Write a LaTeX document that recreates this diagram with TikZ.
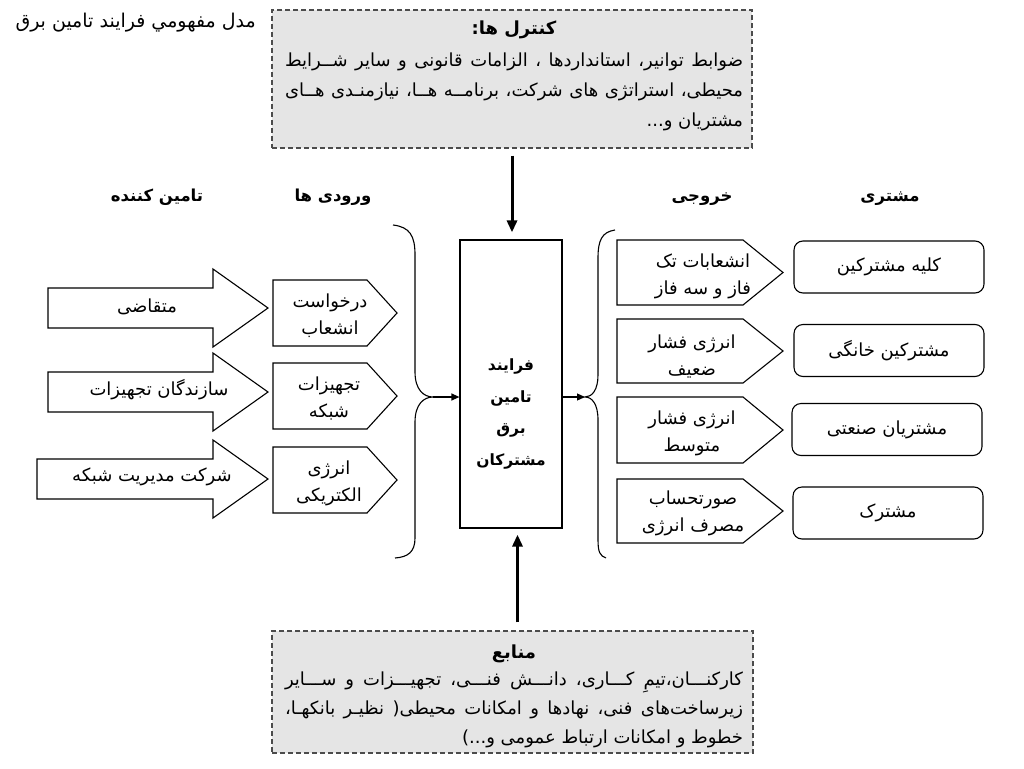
\documentclass[tikz,border=0pt]{standalone}
\usepackage{fontspec}
\usetikzlibrary{arrows.meta}
\TeXXeTstate=1
\newfontfamily\arabicfont[Script=Arabic]{DejaVu Sans}
% right-to-left helpers
\newcommand\fa[1]{\beginR#1\endR}
\newcommand\fajust[1]{\hbox to \hsize{\beginR#1\endR}}
\newcommand\faright[1]{\hbox to \hsize{\hfill\beginR#1\endR}}
\newcommand\facenter[1]{\hbox to \hsize{\hfill\beginR#1\endR\hfill}}

\begin{document}
\begin{tikzpicture}[x=1pt, y=-1pt,
	every node/.style={font=\arabicfont\fontsize{18}{27}\selectfont, inner sep=0pt},
	dashbox/.style={draw=black!70, dash pattern=on 5pt off 3pt, line width=1.3pt, fill=gray!20},
	procbox/.style={draw, line width=1.2pt},
	shapeline/.style={draw, line width=1.1pt},
	custbox/.style={draw, line width=1.1pt, rounded corners=9pt, minimum width=190, minimum height=52},
	head/.style={font=\arabicfont\bfseries\fontsize{16.5}{20}\selectfont},
	bigarr/.style={line width=3pt, -{Triangle[length=12pt,width=10pt]}},
	smallarr/.style={line width=1.2pt, -{Triangle[length=8pt,width=7pt]}}]
	\useasboundingbox (0,0) rectangle (1024,768);

	\node[anchor=base east, font=\arabicfont\fontsize{19}{22}\selectfont] (title) at (256,28) {\fa{مدل مفهومي فرايند تامين برق}};

	% controls and resources
	\node[dashbox, minimum width=480, minimum height=138] (ctrl) at (512,79) {};
	\node[anchor=base] (ctrltxt) at (514,35) {\vtop{\hsize=458pt \baselineskip=29.5pt
		\facenter{\bfseries کنترل ها:}\vskip2.5pt
		\fajust{ضوابط توانیر، استانداردها ، الزامات قانونی و سایر شــرایط}
		\fajust{محیطی، استراتژی های شرکت، برنامــه هــا، نیازمنـدی هــای}
		\faright{مشتریان  و...}}};
	\node[dashbox, minimum width=481, minimum height=122] (res) at (512.5,692) {};
	\node[anchor=base] (restxt) at (514,658) {\vtop{\hsize=458pt \baselineskip=29pt
		\facenter{\bfseries منابع}\vskip-2pt
		\fajust{کارکنـــان،تیمِ کـــاری، دانـــش فنـــی، تجهیـــزات و ســـایر}
		\fajust{زیرساخت‌های فنی، نهادها و امکانات محیطی( نظیـر بانکهـا،}
		\faright{خطوط و امکانات ارتباط عمومی و...)}}};

	% process
	\node[procbox, minimum width=102, minimum height=288] (proc) at (511,384) {};
	\node[font=\arabicfont\bfseries\fontsize{15.5}{31.5}\selectfont, align=center] (proctxt) at (511,414) {\fa{فرایند}\\\fa{تامین}\\\fa{برق}\\\fa{مشترکان}};
	\draw[bigarr, shorten <=7pt, shorten >=7pt] (ctrl.south) -- (ctrl.south |- proc.north);
	\draw[bigarr, shorten <=8pt, shorten >=6pt] ([xshift=5pt]res.north) -- ([xshift=5pt]res.north |- proc.south);

	% column heads
	\node[head] (hsup) at (157,197) {\fa{تامین کننده}};
	\node[head] (hin) at (333,197) {\fa{ورودی ها}};
	\node[head] (hout) at (702,199) {\fa{خروجی}};
	\node[head] (hcust) at (890,199) {\fa{مشتری}};

	% suppliers
	\foreach \c/\x in {308/48, 392/48, 479/37}
		\draw[shapeline] (\x,\c-20) -- (213,\c-20) -- (213,\c-39) -- (268,\c) -- (213,\c+39) -- (213,\c+20) -- (\x,\c+20) -- cycle;
	\node (sup1) at (147,307) {\fa{متقاضی}};
	\node (sup2) at (159,390) {\fa{سازندگان تجهیزات}};
	\node (sup3) at (152,477) {\fa{شرکت مدیریت شبکه}};

	% inputs
	\foreach \y in {280, 363, 447}
		\draw[shapeline] (273,\y) -- (367,\y) -- (397,\y+33) -- (367,\y+66) -- (273,\y+66) -- cycle;
	\node[align=center] (in1) at (330,316) {\fa{درخواست}\\\fa{انشعاب}};
	\node[align=center] (in2) at (329,398) {\fa{تجهیزات}\\\fa{شبکه}};
	\node[align=center] (in3) at (329,483) {\fa{انرژی}\\\fa{الکتریکی}};

	% braces
	\coordinate (ltip) at (433,397);
	\coordinate (rtip) at (585,397);
	\draw[line width=1.1pt] (393,225) .. controls (410,227) and (415,236) .. (415,255) -- (415,372)
		.. controls (415,390) and (424,397) .. (ltip) .. controls (424,397) and (415,404) .. (415,422)
		-- (415,538) .. controls (415,552) and (408,557) .. (395,558);
	\draw[line width=1.1pt] (615,230) .. controls (602,232) and (598,240) .. (598,258) -- (598,375)
		.. controls (598,390) and (592,397) .. (rtip) .. controls (592,397) and (598,404) .. (598,420)
		-- (598,540) .. controls (598,552) and (600,556) .. (606,558);
	\draw[smallarr] (ltip) -- (ltip -| proc.west);
	\draw[smallarr] (proc.east |- rtip) -- (rtip);

	% outputs
	\foreach \y/\h in {240/65, 319/64, 397/66, 479/64}
		\draw[shapeline] (617,\y) -- (743,\y) -- (783,\y+\h/2) -- (743,\y+\h) -- (617,\y+\h) -- cycle;
	\node[align=center] (out1) at (703,276) {\fa{انشعابات تک}\\\fa{فاز و سه فاز}};
	\node[align=center] (out2) at (692,356) {\fa{انرژی فشار}\\\fa{ضعیف}};
	\node[align=center] (out3) at (692,433) {\fa{انرژی فشار}\\\fa{متوسط}};
	\node[align=center] (out4) at (693,513) {\fa{صورتحساب}\\\fa{مصرف انرژی}};

	% customers
	\node[custbox] (cust1) at (889,267) {\fa{کلیه مشترکین}};
	\node[custbox] (cust2) at (889,350.5) {\fa{مشترکین خانگی}};
	\node[custbox] (cust3) at (887,429.5) {\fa{مشتریان صنعتی}};
	\node[custbox] (cust4) at (888,513) {\fa{مشترک}};
\end{tikzpicture}
\end{document}
